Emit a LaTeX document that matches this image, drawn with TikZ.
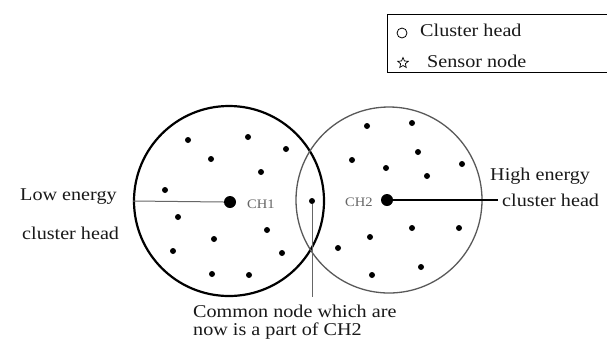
\documentclass[tikz,border=0pt]{standalone}
\usepackage{fontspec}
\setmainfont{Liberation Serif}[FakeStretch=1.12]
\usetikzlibrary{shapes.geometric}
\begin{document}
\begin{tikzpicture}[x=1pt,y=-1pt,
  lbl/.style={font=\fontsize{18}{20}\selectfont, inner sep=0, text=black!90},
  sensor/.style={circle, fill=black, inner sep=0, minimum size=6pt},
  chead/.style={circle, fill=black, inner sep=0, minimum size=12pt},
  chlbl/.style={font=\fontsize{13}{14}\selectfont, text=black!60, inner sep=0},
  thinline/.style={draw=black!60, line width=1pt}]
\useasboundingbox (0,0) rectangle (607,349);
\fill[white] (0,0) rectangle (607,349);
% legend
\draw[line width=0.9pt] (607,14) -- (387,14) -- (387,72) -- (607,72);
\node[circle, draw, inner sep=0, minimum size=10pt, line width=0.8pt] (lc) at (402,33) {};
\node[lbl, anchor=west] (lct) at (420,30) {Cluster head};
\node[star, star points=5, star point ratio=2.2, draw, inner sep=0, minimum size=11pt, line width=0.7pt] (ls) at (403,63) {};
\node[lbl, anchor=west] (lst) at (427,61) {Sensor node};
% clusters
\node[circle, draw=black, line width=2.2pt, minimum size=190pt, inner sep=0] (c1) at (229,201) {};
\node[circle, draw=black!65, line width=1.3pt, minimum size=186pt, inner sep=0] (c2) at (389,200) {};
% sensor nodes
\foreach \p [count=\i] in {(188,140),(248,137),(286,149),(211,159),(261,172),(165,190),(178,217),(267,230),(214,239),(173,251),(282,253),(212,274),(249,275),
  (367,126),(412,123),(418,152),(352,160),(386,168),(427,176),(462,164),(412,228),(459,228),(370,237),(338,248),(421,267),(372,275)}
  \node[sensor] (s\i) at \p {};
% cluster heads
\node[chead] (ch1) at (230,202) {};
\node[chead] (ch2) at (387,200) {};
\node[chlbl, anchor=west] (ch1l) at (247,204) {CH1};
\node[chlbl, anchor=west] (ch2l) at (345,202) {CH2};
% low energy label
\node[lbl, anchor=west] (low1) at (20,197) {Low energy};
\node[lbl, anchor=west] (low2) at (22,233) {cluster head};
\coordinate (lstart) at (133,201);
\draw[thinline] (lstart) -- (ch1.west);
% high energy label
\node[lbl, anchor=west] (high1) at (490,176) {High energy};
\node[lbl, anchor=west] (high2) at (502,200) {cluster head};
\draw[line width=1.2pt] (ch2.east) -- ([xshift=-4pt]high2.west);
% common node
\node[sensor] (cn) at (312,201) {};
\coordinate (cnend) at (312,297);
\draw[thinline] (cn) -- (cnend);
\node[lbl, anchor=west] (cm1) at (193,311) {Common node which are};
\node[lbl, anchor=west] (cm2) at (193,331) {now is a part of CH2};
\end{tikzpicture}
\end{document}
